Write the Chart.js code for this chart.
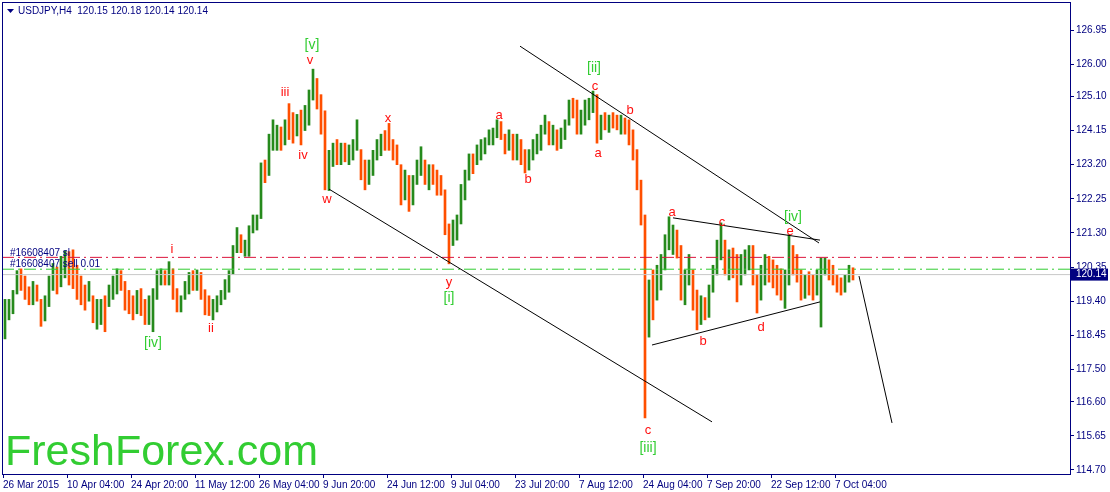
<!DOCTYPE html>
<html>
<head>
<meta charset="utf-8">
<script src="https://cdn.jsdelivr.net/npm/chart.js@4.4.1/dist/chart.umd.min.js"></script>
<style>
  html, body { margin: 0; padding: 0; background: #fff; }
  #wrap { width: 1110px; height: 492px; position: relative; }
</style>
</head>
<body>
<div id="wrap"><canvas id="chart"></canvas></div>
<script>
// USDJPY H4, every bar here groups 4 H4 bars (16 hours)
const highs = [
  119.45,119.45,119.70,120.25,120.30,120.10,119.80,119.95,119.85,119.45,119.55,120.10,120.45,120.35,120.65,120.80,
  120.78,120.83,120.40,120.10,119.85,119.95,119.55,119.45,119.45,119.55,119.85,120.10,120.30,120.25,119.95,119.70,
  119.55,119.70,119.75,119.45,119.55,119.75,120.25,120.30,120.25,120.50,120.30,119.75,119.55,119.95,120.20,120.25,
  120.27,120.20,119.72,119.55,119.45,119.55,119.70,120.00,120.25,120.95,121.45,121.25,121.10,121.50,121.80,121.80,
  123.25,123.33,124.05,124.45,124.30,124.25,124.45,124.90,124.65,124.60,124.72,124.85,125.28,125.86,125.60,125.15,
  124.70,123.60,123.80,123.90,123.80,123.80,123.75,123.90,124.45,123.62,123.33,123.33,123.60,123.90,124.05,124.15,
  124.35,123.90,123.75,123.20,123.05,122.90,122.90,123.33,123.70,123.33,123.20,123.20,123.05,122.90,122.50,121.55,
  121.66,121.80,122.65,123.05,123.50,123.50,123.75,123.90,123.95,124.17,124.22,124.45,124.40,124.05,124.17,124.05,
  124.05,123.90,123.62,123.62,123.90,124.05,124.30,124.58,124.40,124.30,124.17,124.22,124.45,125.00,125.05,125.00,
  124.72,125.00,125.05,125.25,125.15,124.58,124.65,124.58,124.65,124.58,124.58,124.50,124.45,124.17,123.62,122.77,
  121.80,119.99,120.27,120.40,120.70,121.25,121.75,121.52,121.38,120.95,120.27,120.70,120.27,119.71,119.55,119.50,
  119.85,120.40,121.10,121.58,121.10,120.83,120.88,120.70,120.70,120.83,120.95,120.95,120.13,120.40,120.70,120.65,
  120.55,120.40,120.30,120.27,121.25,120.95,120.70,120.27,120.13,120.22,120.13,120.27,120.60,120.60,120.55,120.40,
  120.13,120.05,120.13,120.40,120.33
];
const lows = [
  118.35,118.88,119.05,119.60,119.70,119.45,119.30,119.30,119.40,118.70,118.85,119.25,119.70,119.60,119.80,120.05,
  119.85,119.75,119.45,119.30,119.15,119.40,118.80,118.62,118.75,118.55,119.25,119.45,119.60,119.70,119.15,119.05,
  118.88,119.05,119.00,118.75,118.75,118.55,119.45,119.85,119.85,119.85,119.45,119.10,119.10,119.45,119.60,119.70,
  119.70,119.45,119.02,119.00,118.88,119.10,119.30,119.45,119.65,120.15,120.75,120.75,120.65,120.65,121.30,121.38,
  121.70,122.70,122.90,123.60,123.60,123.60,123.75,123.90,123.80,124.00,123.75,124.15,124.30,125.00,124.75,124.05,
  122.50,122.48,123.15,123.20,123.20,123.28,123.20,123.33,123.60,122.78,122.50,122.65,122.90,123.33,123.45,123.60,
  123.60,123.33,123.20,122.08,122.22,121.90,122.08,122.65,122.90,122.65,122.50,122.65,122.35,122.35,121.25,120.44,
  120.95,121.10,121.55,122.22,122.77,122.95,123.20,123.33,123.50,123.75,123.75,123.95,123.90,123.50,123.60,123.33,
  123.33,123.20,122.97,123.05,123.33,123.50,123.60,124.05,123.75,123.75,123.60,123.65,123.90,124.30,124.50,124.05,
  124.05,124.30,124.45,124.65,123.80,123.90,124.17,124.10,124.22,124.17,124.05,124.05,123.75,123.33,122.50,121.52,
  116.15,118.40,118.88,119.43,119.71,120.27,120.83,120.70,120.60,119.43,119.30,119.85,119.15,118.60,118.75,118.88,
  118.95,119.65,120.13,120.55,120.13,119.99,120.05,119.38,119.85,120.13,120.27,119.85,119.07,119.43,119.85,119.93,
  119.77,119.57,119.43,119.20,119.85,120.13,119.93,119.43,119.48,119.57,119.43,119.57,118.68,120.13,119.99,119.85,
  119.65,119.57,119.65,119.93,119.99
];
const closes = [
  119.15,119.25,119.60,120.05,119.85,119.60,119.55,119.65,119.50,118.95,119.30,119.90,120.25,119.85,120.40,120.55,
  120.20,120.00,119.70,119.55,119.40,119.75,119.00,119.05,119.20,119.10,119.70,119.90,120.15,119.85,119.40,119.25,
  119.20,119.45,119.10,118.95,119.25,119.35,120.10,120.15,120.00,120.10,119.60,119.25,119.45,119.85,120.05,119.95,
  120.05,119.65,119.20,119.15,119.20,119.40,119.60,119.85,120.15,120.80,121.20,120.95,121.00,121.35,121.55,121.70,
  123.10,123.00,123.85,123.95,124.10,123.80,124.20,124.10,124.00,124.40,124.20,124.60,125.15,125.50,124.95,124.40,
  122.80,123.30,123.55,123.40,123.60,123.45,123.50,123.70,124.05,122.95,122.80,123.10,123.40,123.75,123.90,123.85,
  123.75,123.55,123.35,122.30,122.60,122.20,122.70,123.05,123.20,122.85,123.00,122.90,122.55,122.50,121.45,121.00,
  121.40,121.60,122.40,122.90,123.30,123.20,123.60,123.70,123.85,124.00,124.10,124.30,124.00,123.65,123.90,123.60,
  123.70,123.45,123.10,123.45,123.70,123.90,124.15,124.40,123.95,124.00,123.85,124.00,124.30,124.85,124.70,124.50,
  124.55,124.75,124.90,124.95,124.10,124.40,124.35,124.45,124.40,124.30,124.35,124.20,123.95,123.60,122.75,121.80,
  118.40,119.30,119.10,120.10,120.50,121.00,121.25,121.30,120.90,119.70,120.05,120.30,119.35,119.00,119.30,119.15,
  119.70,120.25,120.80,120.95,120.40,120.55,120.30,120.00,120.40,120.60,120.70,120.05,119.40,120.10,120.40,120.20,
  120.00,119.80,119.65,119.95,120.75,120.35,120.05,119.70,119.85,119.75,119.70,120.10,120.30,120.45,120.25,119.95,
  119.80,119.70,120.00,120.30,120.14
];

// one date label every 16 bars
const dateTicks = ['26 Mar 2015', '10 Apr 04:00', '24 Apr 20:00', '11 May 12:00', '26 May 04:00',
  '9 Jun 20:00', '24 Jun 12:00', '9 Jul 04:00', '23 Jul 20:00', '7 Aug 12:00', '24 Aug 04:00',
  '7 Sep 20:00', '22 Sep 12:00', '7 Oct 04:00'];
const priceTicks = [126.95, 126.00, 125.10, 124.15, 123.20, 122.25, 121.30, 120.35,
  119.40, 118.45, 117.50, 116.60, 115.65, 114.70];

const slPrice = 120.62;
const sellPrice = 120.29;
const bidPrice = 120.14;
const quote = ['120.15', '120.18', '120.14', '120.14'];

// wave counts: text, bar index, price, green bracket or red letter
const waveLabels = [
  ['[v]', 76.75, 126.53, 'g'], ['v', 76.25, 126.09, 'r'], ['iii', 70, 125.20, 'r'],
  ['iv', 74.5, 123.47, 'r'], ['w', 80.5, 122.22, 'r'], ['x', 95.75, 124.50, 'r'],
  ['y', 111, 119.93, 'r'], ['[i]', 111, 119.49, 'g'], ['a', 123.5, 124.58, 'r'],
  ['b', 130.75, 122.80, 'r'], ['[ii]', 147.25, 125.89, 'g'], ['c', 147.5, 125.39, 'r'],
  ['b', 156.25, 124.72, 'r'], ['a', 148.25, 123.50, 'r'], ['a', 166.75, 121.88, 'r'],
  ['c', 179.25, 121.60, 'r'], ['[iv]', 197, 121.74, 'g'], ['e', 196.25, 121.35, 'r'],
  ['b', 174.5, 118.29, 'r'], ['d', 189, 118.68, 'r'], ['c', 160.75, 115.79, 'r'],
  ['[iii]', 160.75, 115.31, 'g'], ['i', 41.75, 120.85, 'r'], ['ii', 51.5, 118.65, 'r'],
  ['[iv]', 37, 118.24, 'g']
];

// trend lines: x1, y1, x2, y2 in bar index / price
const trendLines = [
  [81, 122.52, 176.75, 116.04],
  [128.75, 126.50, 203.5, 121.02],
  [167, 121.72, 203.75, 121.10],
  [161.75, 118.18, 203.75, 119.38],
  [213.5, 120.10, 221.75, 116.01]
];

const navy = '#000080';
const upColor = '#268a1c';
const downColor = '#ff4f00';
const xMin = -0.75, xMax = 266.25;
const font = { family: 'Liberation Sans', size: 10 };

const barColors = closes.map((c, i) => c >= (i ? closes[i - 1] : lows[i]) ? upColor : downColor);

const datasets = [{
  type: 'bar',
  data: highs.map((h, i) => ({ x: i, y: [lows[i], h] })),
  backgroundColor: barColors,
  barThickness: 2,
  borderWidth: 0,
  grouped: false,
  order: 3
}];

function hLine(price, color, dash) {
  return {
    type: 'line',
    data: [{ x: xMin, y: price }, { x: xMax, y: price }],
    borderColor: color, borderWidth: 1, borderDash: dash,
    pointRadius: 0, order: 2
  };
}
datasets.push(hLine(bidPrice, '#c8c8c8', []));
datasets.push(hLine(slPrice, '#dc143c', [12, 4, 2, 4]));
datasets.push(hLine(sellPrice, '#32cd32', [12, 4, 2, 4]));

trendLines.forEach(t => datasets.push({
  type: 'line',
  data: [{ x: t[0], y: t[1] }, { x: t[2], y: t[3] }],
  borderColor: '#000', borderWidth: 1, pointRadius: 0, order: 1
}));

const decor = {
  id: 'decor',
  beforeDraw(chart) {
    const ctx = chart.ctx;
    ctx.save();
    ctx.fillStyle = '#fff';
    ctx.fillRect(0, 0, chart.width, chart.height);
    ctx.restore();
  },
  beforeDatasetsDraw(chart) {
    const { ctx, chartArea } = chart;
    ctx.save();
    ctx.font = '43px "Liberation Sans"';
    ctx.fillStyle = '#32cd32';
    ctx.textAlign = 'left';
    ctx.textBaseline = 'alphabetic';
    ctx.fillText('FreshForex.com', chartArea.left + 3, chartArea.bottom - 9);
    ctx.restore();
  },
  afterDatasetsDraw(chart) {
    const { ctx, scales } = chart;
    const x = scales.x, y = scales.y;
    ctx.save();
    ctx.textAlign = 'center';
    ctx.textBaseline = 'middle';
    waveLabels.forEach(([t, i, p, k]) => {
      ctx.font = (k === 'g' ? '14px' : '13px') + ' "Liberation Sans"';
      ctx.fillStyle = k === 'g' ? '#32cd32' : '#ff1010';
      ctx.fillText(t, x.getPixelForValue(i), y.getPixelForValue(p));
    });
    ctx.font = '10px "Liberation Sans"';
    ctx.fillStyle = navy;
    ctx.textAlign = 'left';
    ctx.textBaseline = 'alphabetic';
    ctx.fillText('#16608407 sl', x.getPixelForValue(1.25), y.getPixelForValue(slPrice) - 1);
    ctx.fillText('#16608407 sell 0.01', x.getPixelForValue(1.25), y.getPixelForValue(sellPrice) - 2);
    ctx.restore();
  },
  afterDraw(chart) {
    const { ctx, chartArea, scales } = chart;
    ctx.save();
    ctx.strokeStyle = navy;
    ctx.lineWidth = 1;
    ctx.strokeRect(chartArea.left + 0.5, chartArea.top + 0.5,
      chartArea.right - chartArea.left, chartArea.bottom - chartArea.top);
    // header
    ctx.fillStyle = navy;
    ctx.beginPath();
    ctx.moveTo(chartArea.left + 5, chartArea.top + 7);
    ctx.lineTo(chartArea.left + 12, chartArea.top + 7);
    ctx.lineTo(chartArea.left + 8.5, chartArea.top + 11);
    ctx.closePath();
    ctx.fill();
    ctx.font = '10px "Liberation Sans"';
    ctx.textBaseline = 'middle';
    ctx.fillText('USDJPY,H4  ' + quote.join(' '), chartArea.left + 16, chartArea.top + 9);
    // last price box
    const py = scales.y.getPixelForValue(bidPrice);
    ctx.fillRect(chartArea.right + 1, py - 6, 37, 12);
    ctx.fillStyle = '#fff';
    ctx.fillText(bidPrice.toFixed(2), chartArea.right + 6, py);
    ctx.restore();
  }
};

new Chart(document.getElementById('chart'), {
  data: { datasets },
  options: {
    responsive: true,
    maintainAspectRatio: false,
    animation: false,
    layout: { padding: { left: 2, top: 2, right: 0, bottom: 0 } },
    plugins: { legend: { display: false }, tooltip: { enabled: false } },
    scales: {
      x: {
        type: 'linear', min: xMin, max: xMax, offset: false,
        grid: { drawOnChartArea: false, drawTicks: true, tickLength: 4, tickColor: navy, offset: false },
        border: { display: true, color: navy },
        afterBuildTicks: s => { s.ticks = dateTicks.map((_, k) => ({ value: k * 16 - 0.5 })); },
        afterFit: s => { s.height = 18; s.paddingLeft = 0; s.paddingRight = 0; },
        ticks: {
          autoSkip: false, maxRotation: 0, align: 'start', padding: 1,
          color: navy, font, callback: (v, i) => dateTicks[i]
        }
      },
      y: {
        type: 'linear', position: 'right', min: 114.5886, max: 127.7296,
        grid: { drawOnChartArea: false, tickLength: 4, tickColor: navy },
        border: { display: true, color: navy },
        afterBuildTicks: s => { s.ticks = priceTicks.map(v => ({ value: v })); },
        afterFit: s => { s.width = 40; s.paddingTop = 0; s.paddingBottom = 0; },
        ticks: { color: navy, padding: 2, font, callback: v => v.toFixed(2) }
      }
    }
  },
  plugins: [decor]
});
</script>
</body>
</html>
